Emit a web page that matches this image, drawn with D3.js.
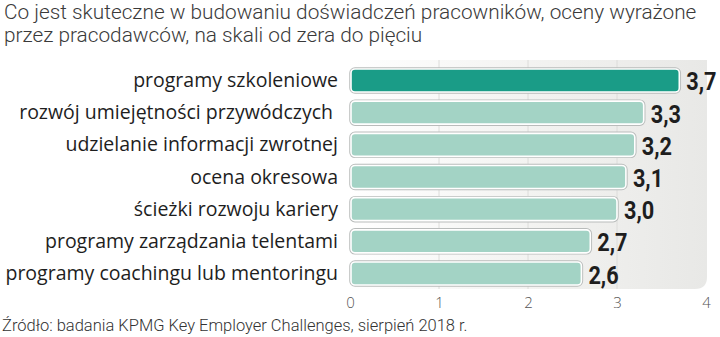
<!DOCTYPE html>
<html><head><meta charset="utf-8">
<script src="https://cdn.jsdelivr.net/npm/d3@7"></script>
<style>
body{margin:0;background:#fff;}
svg{display:block;}
</style></head>
<body><svg id="c" width="720" height="337"></svg>
<script>
const titleLines = ["Co jest skuteczne w budowaniu doświadczeń pracowników, oceny wyrażone", "przez pracodawców, na skali od zera do pięciu"];
const categories = ["programy szkoleniowe", "rozwój umiejętności przywódczych", "udzielanie informacji zwrotnej", "ocena okresowa", "ścieżki rozwoju kariery", "programy zarządzania telentami", "programy coachingu lub mentoringu"];
const values = [3.7, 3.3, 3.2, 3.1, 3.0, 2.7, 2.6];
const valueLabels = ["3,7", "3,3", "3,2", "3,1", "3,0", "2,7", "2,6"];
const ticks = [0, 1, 2, 3, 4];
const source = "Źródło: badania KPMG Key Employer Challenges, sierpień 2018 r.";

const svg = d3.select("#c");
const x = d3.scaleLinear().domain([0, 4]).range([350, 706]);
const y = d3.scaleBand().domain(categories).range([64.4, 289.6]).paddingInner(0.285).paddingOuter(0.1425);

const defs = svg.append("defs");
const g = defs.append("linearGradient").attr("id", "bg").attr("x1", "0").attr("x2", "1").attr("y1", "0").attr("y2", "0");
g.append("stop").attr("offset", "0").attr("stop-color", "#ffffff");
g.append("stop").attr("offset", "0.55").attr("stop-color", "#f2f2f0");
g.append("stop").attr("offset", "1").attr("stop-color", "#e8e8e6");

// title
svg.append("g").selectAll("text").data(titleLines).join("text")
  .attr("x", 4).attr("y", (d, i) => 19 + i * 23)
  .attr("font-family", "Roboto, 'Open Sans', sans-serif").attr("font-weight", 300)
  .attr("font-size", 20.8).attr("fill", "#3a3a3a").text(d => d);

// panel
const px0 = 348, px1 = 707, py0 = 60, py1 = 289, r = 12;
svg.append("path")
  .attr("d", `M${px0},${py0} H${px1} V${py1 - r} Q${px1},${py1} ${px1 - r},${py1} H${px0} Z`)
  .attr("fill", "url(#bg)");

// gridlines
svg.append("g").selectAll("line").data(ticks.filter(t => t > 0 && t < 4)).join("line")
  .attr("x1", d => x(d)).attr("x2", d => x(d)).attr("y1", py0).attr("y2", py1)
  .attr("stroke", "#dcdcda").attr("stroke-width", 1);

// bars
const bars = svg.append("g").selectAll("g").data(categories).join("g");
bars.append("rect")
  .attr("x", x(0) + 1).attr("y", d => y(d))
  .attr("width", (d, i) => x(values[i]) - x(0) - 1).attr("height", y.bandwidth())
  .attr("rx", 4).attr("fill", "none").attr("stroke", "#b9bcbb").attr("stroke-width", 3.5);
bars.append("rect")
  .attr("x", x(0) + 1).attr("y", d => y(d))
  .attr("width", (d, i) => x(values[i]) - x(0) - 1).attr("height", y.bandwidth())
  .attr("rx", 4).attr("fill", (d, i) => i === 0 ? "#1a9c87" : "#a3d3c5")
  .attr("stroke", "#ffffff").attr("stroke-width", 1.6);

// value labels (condensed bold)
bars.append("text")
  .attr("transform", (d, i) => `translate(${x(values[i]) + 7},${y(d) + y.bandwidth() / 2 + 10}) scale(0.82,1)`)
  .attr("font-family", "Roboto, sans-serif")
  .attr("font-weight", 700).attr("font-size", 26.5).attr("fill", "#1e1e1e")
  .text((d, i) => valueLabels[i]);

// category labels
svg.append("g").selectAll("text").data(categories).join("text")
  .attr("x", (d, i) => i === 1 ? 333 : 338).attr("y", d => y(d) + y.bandwidth() / 2 + 6.5)
  .attr("text-anchor", "end")
  .attr("font-family", "'Open Sans', sans-serif").attr("font-size", 19.5).attr("fill", "#1e1e1e")
  .text(d => d);

// x axis tick labels
const ax = svg.append("g").attr("transform", "translate(0,297)")
  .call(d3.axisBottom(x).tickValues(ticks).tickFormat(d3.format("d")).tickSize(0).tickPadding(0));
ax.select(".domain").remove();
ax.selectAll("text").attr("font-family", "'Open Sans', sans-serif").attr("font-size", 15).attr("fill", "#555").attr("font-weight", 300);

// source
svg.append("text").attr("x", 2).attr("y", 331)
  .attr("font-family", "Roboto, 'Open Sans', sans-serif").attr("font-weight", 300)
  .attr("font-size", 16.5).attr("fill", "#333").text(source);
</script></body></html>
